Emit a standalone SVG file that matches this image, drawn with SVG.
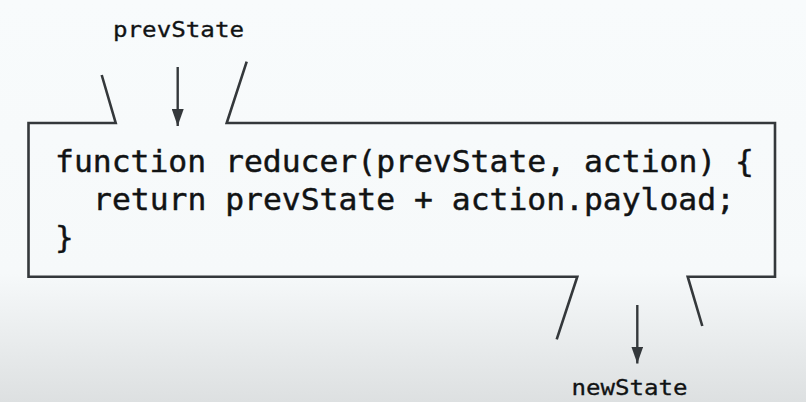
<svg xmlns="http://www.w3.org/2000/svg" width="806" height="402" viewBox="0 0 806 402">
  <style>
    .outline { fill: none; stroke: #34383b; stroke-width: 2.6; stroke-linejoin: miter; }
    .conn { fill: none; stroke: #34383b; stroke-width: 2.4; }
    .code { font-family: "DejaVu Sans Mono", "Liberation Mono", monospace; font-size: 31px; fill: #111314; stroke: #111314; stroke-width: 0.45; }
    .label { font-family: "DejaVu Sans Mono", "Liberation Mono", monospace; font-size: 21px; fill: #111314; stroke: #111314; stroke-width: 0.3; }
  </style>
  <defs>
    <linearGradient id="bg" x1="0" y1="0" x2="0" y2="1">
      <stop offset="0" stop-color="#f8fbfc"/>
      <stop offset="0.68" stop-color="#f6f9fa"/>
      <stop offset="1" stop-color="#dde0e1"/>
    </linearGradient>
    <marker id="arrow" markerUnits="userSpaceOnUse" markerWidth="17" markerHeight="12" refX="17" refY="6" orient="auto">
      <path d="M0,0 L17,6 L0,12 z" fill="#34383b"/>
    </marker>
  </defs>
  <rect x="0" y="0" width="806" height="402" fill="url(#bg)"/>

  <g id="reducer">
    <polyline class="outline" points="101.7,75 115.7,123 28.5,123 28.5,276.7 577.3,276.7 556.7,339.3"/>
    <polyline class="outline" points="246.7,61.7 226.7,123 775,123 775,276.7 687.7,276.7 702.3,326"/>
    <text class="code" x="55" y="172" textLength="699" lengthAdjust="spacingAndGlyphs">function reducer(prevState, action) {</text>
    <text class="code" x="93" y="210" textLength="642" lengthAdjust="spacingAndGlyphs">return prevState + action.payload;</text>
    <text class="code" x="55" y="248">}</text>
  </g>

  <g id="prevState">
    <text class="label" x="113" y="37" textLength="131" lengthAdjust="spacingAndGlyphs">prevState</text>
  </g>

  <g id="newState">
    <text class="label" x="571.5" y="395" textLength="116" lengthAdjust="spacingAndGlyphs">newState</text>
  </g>

  <g id="connectors">
    <line class="conn" x1="177.7" y1="67" x2="177.7" y2="126" marker-end="url(#arrow)"/>
    <line class="conn" x1="637.3" y1="305" x2="637.3" y2="363.5" marker-end="url(#arrow)"/>
  </g>
</svg>
